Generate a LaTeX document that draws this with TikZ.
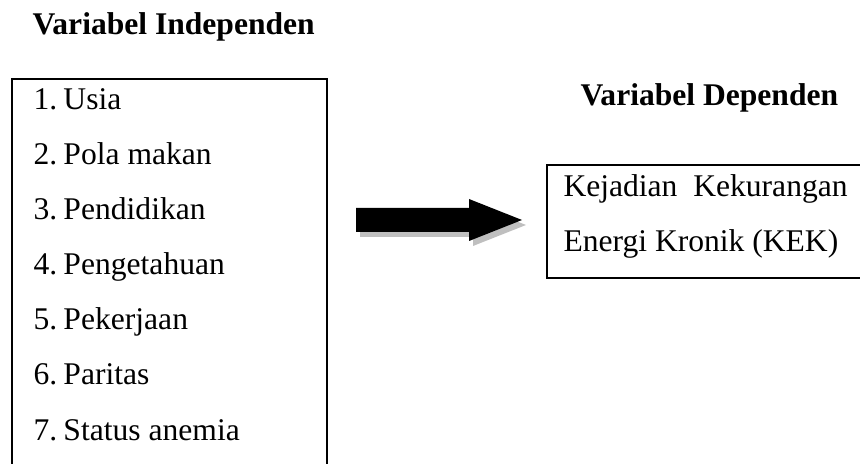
\documentclass[tikz,border=0pt]{standalone}
\usepackage{fontspec}
\setmainfont{Liberation Serif}
\begin{document}
\begin{tikzpicture}[x=0.38pt, y=-0.38pt, font=\fontsize{12pt}{14pt}\selectfont,
    box/.style={line width=1pt},
    label/.style={anchor=base west, inner sep=0pt},
    heading/.style={label, font=\fontsize{12pt}{14pt}\selectfont\bfseries}]
        % Page frame
        \useasboundingbox (0,0) rectangle (860,464);
        \clip (0,0) rectangle (860,464);

        % Headings
        \node[heading] (indep) at (32,35) {Variabel Independen};
        \node[heading] (dep) at (580,106) {Variabel Dependen};

        % Box of the independent variables (runs past the bottom edge)
        \draw[box] (12,490) -- (12,79) -- (327,79) -- (327,490);

        % List of the variables
        \foreach \i/\txt in {1/Usia, 2/Pola makan, 3/Pendidikan, 4/Pengetahuan,
                             5/Pekerjaan, 6/Paritas, 7/Status anemia} {
            \pgfmathsetmacro{\y}{110+55*(\i-1)}
            \node[label] (item\i) at (33,\y) {\makebox[11.4pt][l]{\i.}\txt};
        }

        % Box of the dependent variable (runs past the right edge)
        \draw[box] (547,165) rectangle (890,278);
        \node[label] (kejadian) at (563,197) {Kejadian\ \ Kekurangan};
        \node[label] (energi) at (563,252) {Energi Kronik (KEK)};

        % Block arrow with its shadow
        \fill[black!25, shift={(4,5)}] (356,208) -- (469,208) -- (469,199) -- (522,220)
            -- (469,241) -- (469,232) -- (356,232) -- cycle;
        \fill[black] (356,208) -- (469,208) -- (469,199) -- (522,220)
            -- (469,241) -- (469,232) -- (356,232) -- cycle;

      \end{tikzpicture}
\end{document}
